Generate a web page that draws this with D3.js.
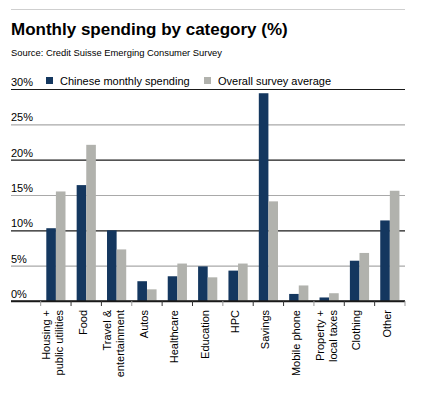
<!DOCTYPE html>
<html>
<head>
<meta charset="utf-8">
<script src="https://cdn.jsdelivr.net/npm/d3@7"></script>
<style>
  body { margin: 0; background: #fff; }
  svg text { font-family: "Liberation Sans", Arial, Helvetica, sans-serif; fill: #000; }
  .title { font-size: 17px; font-weight: bold; }
  .source { font-size: 9.4px; }
  .legend, .ylab, .xlab { font-size: 11px; }
</style>
</head>
<body>
<div id="chart"></div>
<script>
// data
const categories = ["Housing +\npublic utilities", "Food", "Travel &\nentertainment", "Autos",
  "Healthcare", "Education", "HPC", "Savings", "Mobile phone", "Property +\nlocal taxes",
  "Clothing", "Other"];
const chinese = [10.3, 16.4, 10.0, 2.8, 3.5, 4.9, 4.3, 29.4, 1.0, 0.5, 5.7, 11.4];
const overall = [15.5, 22.1, 7.3, 1.65, 5.3, 3.35, 5.3, 14.1, 2.2, 1.1, 6.8, 15.6];
const seriesNames = ["Chinese monthly spending", "Overall survey average"];
const yTicks = [0, 5, 10, 15, 20, 25, 30];

const colors = ["#14375f", "#b1b2ad"];

const svg = d3.select("#chart")
  .append("svg")
    .attr("width", 430)
    .attr("height", 406);

// frame of the plot
const left = 11, right = 405;
const bandLeft = 40.7;

// top rule
svg.append("line")
    .attr("x1", left).attr("x2", right)
    .attr("y1", 9.5).attr("y2", 9.5)
    .attr("stroke", "#cfcfcf").attr("stroke-width", 1);

// title and source
svg.append("text")
    .attr("class", "title")
    .attr("x", left).attr("y", 35)
  .text("Monthly spending by category (%)");
svg.append("text")
    .attr("class", "source")
    .attr("x", left).attr("y", 56)
  .text("Source: Credit Suisse Emerging Consumer Survey");

// scales
const xScale = d3.scaleBand()
    .domain(categories)
    .range([bandLeft, right])
    .padding(0);
const xInner = d3.scaleBand()
    .domain(seriesNames)
    .range([5.6, 24.8]);
const yScale = d3.scaleLinear()
    .domain([0, 30])
    .range([301, 89]);

// horizontal grid lines with labels sitting on them
const grid = svg.append("g")
    .attr("transform", `translate(${left}, 0)`)
  .call(d3.axisRight(yScale)
      .tickValues(yTicks)
      .tickSize(right - left)
      .tickFormat(d => d + "%"));
grid.select(".domain").remove();
grid.selectAll(".tick line")
    .attr("stroke", d => d % 10 === 0 ? "#1a1a1a" : "#a9a9a9")
    .attr("stroke-width", d => d === 0 ? 1.6 : 1.2);
grid.selectAll(".tick text")
    .attr("class", "ylab")
    .attr("x", 0)
    .attr("dy", -3.5)
    .attr("text-anchor", "start")
    .attr("font-size", null)
    .attr("font-family", null)
    .attr("fill", "#000");
grid.attr("font-size", null).attr("font-family", null);

// bars
const rows = categories.map((c, i) => ({ cat: c, values: [chinese[i], overall[i]] }));
svg.append("g")
  .selectAll("g")
  .data(rows)
  .join("g")
    .attr("transform", d => `translate(${xScale(d.cat)}, 0)`)
  .selectAll("rect")
  .data(d => d.values.map((v, j) => ({ key: seriesNames[j], value: v, j: j })))
  .join("rect")
    .attr("x", d => xInner(d.key))
    .attr("width", xInner.bandwidth())
    .attr("y", d => yScale(d.value))
    .attr("height", d => yScale(0) - yScale(d.value))
    .attr("fill", d => colors[d.j]);

// redraw the zero line over the bars
svg.append("line")
    .attr("x1", left).attr("x2", right)
    .attr("y1", yScale(0)).attr("y2", yScale(0))
    .attr("stroke", "#1a1a1a").attr("stroke-width", 1.6);

// category separator ticks
const edges = categories.map(c => xScale(c)).concat([xScale.range()[1]]);
svg.append("g")
  .selectAll("line")
  .data(edges)
  .join("line")
    .attr("x1", d => d).attr("x2", d => d)
    .attr("y1", yScale(0)).attr("y2", yScale(0) + 5)
    .attr("stroke", (d, i) => i % 3 === 0 ? "#999" : "#333")
    .attr("stroke-width", 1);

// rotated category labels
const xlab = svg.append("g")
  .selectAll("text")
  .data(categories)
  .join("text")
    .attr("class", "xlab")
    .attr("text-anchor", "end")
    .attr("transform", d => `translate(${xScale(d) + xScale.bandwidth() / 2}, 310) rotate(-90)`);
xlab.each(function(d) {
  const lines = d.split("\n");
  const offs = lines.length === 1 ? [1] : [-5.5, 7.5];
  d3.select(this).selectAll("tspan")
    .data(lines)
    .join("tspan")
      .attr("x", 0)
      .attr("y", (l, i) => offs[i])
    .text(l => l);
});

// legend
const legendX = [46, 204];
const legend = svg.append("g")
  .selectAll("g")
  .data(seriesNames)
  .join("g")
    .attr("transform", (d, i) => `translate(${legendX[i]}, 77)`);
legend.append("rect")
    .attr("width", 7).attr("height", 7)
    .attr("fill", (d, i) => colors[i]);
legend.append("text")
    .attr("class", "legend")
    .attr("x", 14).attr("y", 7.5)
  .text(d => d);
</script>
</body>
</html>
